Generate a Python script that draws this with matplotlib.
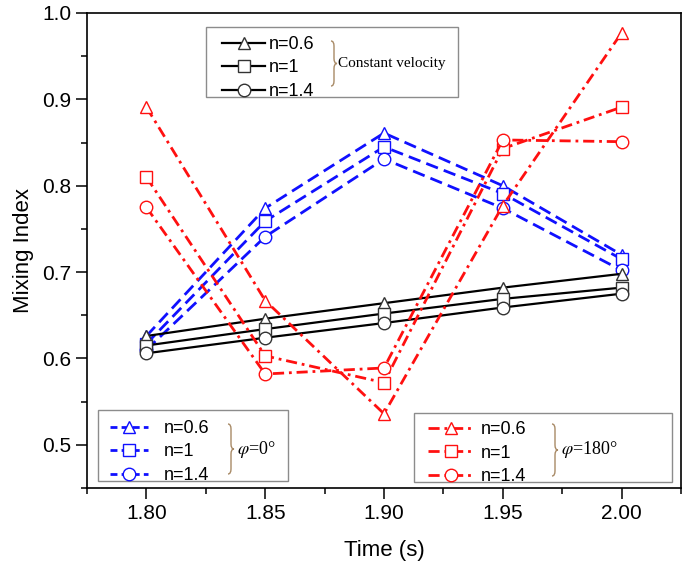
import matplotlib
matplotlib.use('Agg')
import matplotlib.pyplot as plt
from matplotlib.lines import Line2D
from matplotlib.patches import Rectangle, PathPatch
from matplotlib.path import Path

plt.rcParams['font.family'] = ['Liberation Sans', 'DejaVu Sans']
plt.rcParams['mathtext.fontset'] = 'stix'
plt.rcParams['lines.scale_dashes'] = False

# ---- data ----
time = [1.80, 1.85, 1.90, 1.95, 2.00]

cv_n06 = [0.626, 0.646, 0.664, 0.682, 0.698]
cv_n10 = [0.615, 0.634, 0.652, 0.669, 0.682]
cv_n14 = [0.606, 0.624, 0.641, 0.659, 0.675]

p0_n06 = [0.626, 0.774, 0.861, 0.800, 0.720]
p0_n10 = [0.617, 0.759, 0.845, 0.791, 0.715]
p0_n14 = [0.610, 0.741, 0.831, 0.774, 0.702]

p180_n06 = [0.891, 0.667, 0.536, 0.777, 0.977]
p180_n10 = [0.810, 0.603, 0.572, 0.843, 0.891]
p180_n14 = [0.775, 0.582, 0.589, 0.853, 0.851]

n_labels = ['n=0.6', 'n=1', 'n=1.4']
markers = ['^', 's', 'o']

W, H = 685, 570
BLUE = '#1010ff'
RED = '#ff1010'
DASH = (9, 4.5)
DASHDOT = (8, 3.5, 2, 3.5)


def fx(x):
    return x / W


def fy(y):
    return 1 - y / H


fig = plt.figure(figsize=(W / 100, H / 100), dpi=100)
ax = fig.add_axes([fx(87), fy(488), fx(681) - fx(87), fy(13) - fy(488)])

mk = dict(markersize=9, markerfacecolor='white', markeredgewidth=1.0)

for vals, m in zip([p0_n06, p0_n10, p0_n14], markers):
    ax.plot(time, vals, color=BLUE, lw=2.0, dashes=DASH, marker=m,
            markeredgecolor=BLUE, **mk)
for vals, m in zip([cv_n06, cv_n10, cv_n14], markers):
    ax.plot(time, vals, color='black', lw=1.6, marker=m,
            markeredgecolor='#333333', **mk)
for vals, m in zip([p180_n06, p180_n10, p180_n14], markers):
    ax.plot(time, vals, color=RED, lw=2.0, dashes=DASHDOT, marker=m,
            markeredgecolor=RED, **mk)

ax.set_xlim(1.775, 2.025)
ax.set_ylim(0.45, 1.0)
ax.set_xticks(time)
ax.set_xticklabels(['%.2f' % t for t in time])
ax.set_xticks([1.775, 1.825, 1.875, 1.925, 1.975, 2.025], minor=True)
ax.set_yticks([0.5, 0.6, 0.7, 0.8, 0.9, 1.0])
ax.set_yticks([0.45, 0.55, 0.65, 0.75, 0.85, 0.95], minor=True)
ax.tick_params(which='major', direction='out', length=8, width=1.1, labelsize=15)
ax.tick_params(which='minor', direction='out', length=4.5, width=1.1)
for s in ax.spines.values():
    s.set_linewidth(1.2)
ax.set_xlabel('Time (s)', fontsize=16, labelpad=12)
ax.set_ylabel('Mixing Index', fontsize=16, labelpad=6)


# ---- legend boxes ----
def box(x0, y0, x1, y1):
    fig.patches.append(Rectangle((fx(x0), fy(y1)), fx(x1) - fx(x0), fy(y0) - fy(y1),
                                 transform=fig.transFigure, fill=False,
                                 edgecolor='#8c8c8c', lw=1.0, zorder=5))
    fig.patches.append(Rectangle((fx(x0), fy(y1)), fx(x1) - fx(x0), fy(y0) - fy(y1),
                                 transform=fig.transFigure, facecolor='white',
                                 edgecolor='none', zorder=4))


def brace(x0, yt, yb, w=6):
    ym = (yt + yb) / 2
    r = 5
    xm = x0 + w / 2
    pts = [(x0, yt), (xm, yt), (xm, yt + r), (xm, ym - r), (xm, ym), (x0 + w, ym),
           (xm, ym), (xm, ym + r), (xm, yb - r), (xm, yb), (x0, yb)]
    codes = [Path.MOVETO, Path.CURVE3, Path.CURVE3, Path.LINETO, Path.CURVE3, Path.CURVE3,
             Path.CURVE3, Path.CURVE3, Path.LINETO, Path.CURVE3, Path.CURVE3]
    p = Path([(fx(a), fy(b)) for a, b in pts], codes)
    fig.patches.append(PathPatch(p, transform=fig.transFigure, fill=False,
                                 edgecolor='#a88a66', lw=1.0, zorder=6))


def legend(color, ls, x, y, hl, pad, mec):
    handles = [Line2D([], [], color=color, lw=2.0 if color != 'black' else 1.6,
                      marker=m, markersize=9, markerfacecolor='white',
                      markeredgecolor=mec, markeredgewidth=1.0, **ls)
               for m in markers]
    lg = fig.legend(handles, n_labels, loc='upper left', bbox_to_anchor=(fx(x), fy(y)),
                    frameon=False, fontsize=13, handlelength=hl, handletextpad=pad,
                    labelspacing=0.36, borderpad=0, borderaxespad=0)
    lg.set_zorder(7)
    return lg


serif = ['Liberation Serif', 'DejaVu Serif']

# constant velocity
box(206, 27, 458, 97)
legend('black', {}, 222, 36, 2.4, 0.2, '#333333')
brace(331, 41, 86)
fig.text(fx(338), fy(63), 'Constant velocity', family=serif, fontsize=11,
         va='center', ha='left', zorder=8)

# phi = 0
box(98, 410, 288, 481)
legend(BLUE, {'dashes': (5, 3)}, 110, 420, 2.1, 0.9, BLUE)
brace(228, 424, 474)
fig.text(fx(237), fy(450), r'$\varphi$=0°', family=serif, fontsize=13,
         va='center', ha='left', zorder=8)

# phi = 180
box(414, 413, 672, 482)
legend(RED, {'dashes': DASHDOT}, 428, 421, 2.6, 0.3, RED)
brace(552, 424, 476)
fig.text(fx(561), fy(449), r'$\varphi$=180°', family=serif, fontsize=13,
         va='center', ha='left', zorder=8)

fig.savefig('out.png', dpi=100)
